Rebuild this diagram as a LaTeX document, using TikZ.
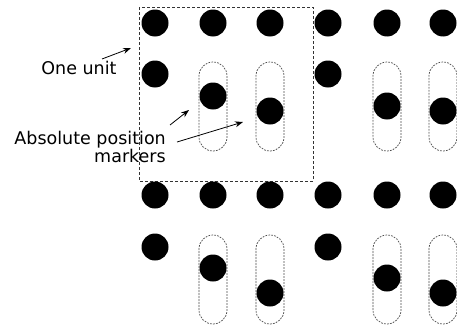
\documentclass[tikz,border=0pt]{standalone}
\usepackage{fontspec}
\setmainfont{DejaVu Sans}
\usetikzlibrary{arrows.meta}
\begin{document}
\begin{tikzpicture}[x=1pt,y=-1pt,
  dot/.style={circle,fill=black,inner sep=0pt,minimum size=27pt},
  capsule/.style={draw=black!70,line width=0.7pt,dash pattern=on 1.8pt off 1.2pt,rounded corners=13.9pt,minimum width=28pt,minimum height=89pt,inner sep=0pt},
  unitbox/.style={draw=black!80,line width=0.8pt,dash pattern=on 3pt off 2pt},
  lbl/.style={font=\fontsize{17.5pt}{18pt}\selectfont,inner sep=0pt},
  pointer/.style={-{Stealth[length=8pt,width=6pt]},line width=0.8pt}]
\useasboundingbox (0,0) rectangle (457,324);
% unit box
\draw[unitbox] (139,7) rectangle (313,181);
% capsules
\node[capsule] (c12) at (213,106.5) {};
\node[capsule] (c13) at (270,106.5) {};
\node[capsule] (c15) at (387,106.5) {};
\node[capsule] (c16) at (443,106.5) {};
\node[capsule] (c22) at (213,279.5) {};
\node[capsule] (c23) at (270,279.5) {};
\node[capsule] (c25) at (387,279.5) {};
\node[capsule] (c26) at (443,279.5) {};
% dots row 1
\node[dot] (a1) at (155,23) {};
\node[dot] (a2) at (213,23) {};
\node[dot] (a3) at (270,23) {};
\node[dot] (a4) at (328,23) {};
\node[dot] (a5) at (387,23) {};
\node[dot] (a6) at (443,23) {};
% dots row 2
\node[dot] (b1) at (155,74) {};
\node[dot] (b2) at (213,96) {};
\node[dot] (b3) at (270,111) {};
\node[dot] (b4) at (328,74) {};
\node[dot] (b5) at (387,106) {};
\node[dot] (b6) at (443,111) {};
% dots row 3
\node[dot] (e1) at (155,195) {};
\node[dot] (e2) at (213,195) {};
\node[dot] (e3) at (270,195) {};
\node[dot] (e4) at (328,195) {};
\node[dot] (e5) at (387,195) {};
\node[dot] (e6) at (443,195) {};
% dots row 4
\node[dot] (f1) at (155,247) {};
\node[dot] (f2) at (213,268) {};
\node[dot] (f3) at (270,293) {};
\node[dot] (f4) at (328,247) {};
\node[dot] (f5) at (387,278) {};
\node[dot] (f6) at (443,293) {};
% labels
\node[lbl] (one) at (79,68) {One unit};
\node[lbl,align=right,anchor=north east] (abs) at (166,131) {Absolute position\\markers};
% pointer ends
\coordinate (pOne) at (131,48);
\coordinate (pA) at (189,110);
\coordinate (pB) at (243,122);
\coordinate (sOne) at (102,59);
\coordinate (sA) at (170,125);
\coordinate (sB) at (177,142);
\draw[pointer] (sOne) -- (pOne);
\draw[pointer] (sA) -- (pA);
\draw[pointer] (sB) -- (pB);
\end{tikzpicture}
\end{document}
